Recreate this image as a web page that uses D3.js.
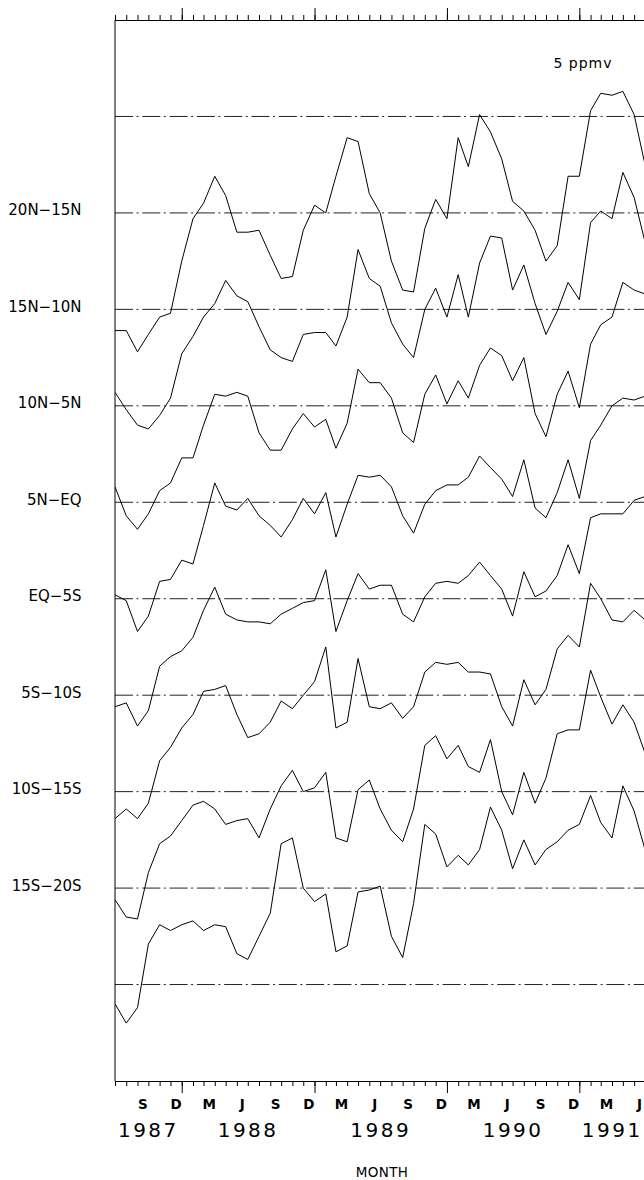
<!DOCTYPE html>
<html lang="en">
<head>
<meta charset="UTF-8">
<title>Stacked band series</title>
<script src="https://cdn.jsdelivr.net/npm/d3@7/dist/d3.min.js"></script>
<style>
  body { margin: 0; background: #fff; }
  text { font-family: "DejaVu Sans", sans-serif; fill: #000; }
</style>
</head>
<body>
<script>
// one value per month from Jul 1987, ppmv relative to the band's own dash-dot line
const bands = ["20N−15N", "15N−10N", "10N−5N", "5N−EQ", "EQ−5S", "5S−10S", "10S−15S", "15S−20S"];

const b20N15N = [-6.1,-6.1,-7.2,-6.3,-5.4,-5.2,-2.5,-0.3,0.5,1.9,0.9,-1.0,-1.0,-0.9,-2.2,-3.4,-3.3,-0.9,0.4,0.0,
  1.9,3.9,3.7,1.0,0.0,-2.5,-4.0,-4.1,-0.8,0.7,-0.3,3.9,2.4,5.1,4.2,2.8,0.6,0.1,-0.9,-2.5,-1.7,1.9,1.9,5.3,6.2,6.1,6.3,5.1,2.5];
const b15N10N = [-4.3,-5.2,-6.0,-6.2,-5.5,-4.6,-2.3,-1.4,-0.4,0.3,1.5,0.7,0.4,-0.9,-2.1,-2.5,-2.7,-1.3,-1.2,-1.2,
  -1.9,-0.4,3.1,1.6,1.2,-0.7,-1.8,-2.5,0.0,1.1,-0.4,1.8,-0.4,2.4,3.8,3.7,1.0,2.3,0.3,-1.3,-0.1,1.4,0.5,4.5,5.1,4.7,7.1,5.8,3.5];
const b10N5N = [-4.2,-5.7,-6.4,-5.6,-4.4,-4.0,-2.7,-2.7,-1.0,0.6,0.5,0.7,0.5,-1.4,-2.3,-2.3,-1.2,-0.4,-1.1,-0.7,
  -2.2,-0.9,1.9,1.2,1.2,0.4,-1.4,-1.9,0.6,1.6,0.1,1.3,0.4,2.1,3.0,2.6,1.3,2.5,-0.4,-1.6,0.6,1.8,-0.1,3.2,4.2,4.6,6.4,6.0,5.8];
const b5NEQ = [-4.8,-5.1,-6.7,-5.9,-4.1,-4.0,-3.0,-3.2,-1.2,1.0,-0.2,-0.4,0.2,-0.7,-1.2,-1.8,-0.9,0.2,-0.6,0.5,
  -1.8,-0.1,1.4,1.3,1.4,0.8,-0.7,-1.6,-0.1,0.6,0.9,0.9,1.3,2.4,1.8,1.2,0.3,2.2,-0.3,-0.8,0.5,2.2,0.2,3.2,4.0,5.0,5.4,5.3,5.5];
const bEQ5S = [-5.6,-5.4,-6.6,-5.8,-3.5,-3.0,-2.7,-2.0,-0.6,0.6,-0.8,-1.1,-1.2,-1.2,-1.3,-0.8,-0.5,-0.2,-0.1,1.5,
  -1.7,-0.1,1.3,0.5,0.7,0.7,-0.8,-1.2,0.1,0.8,0.9,0.8,1.2,1.9,1.2,0.5,-0.9,1.4,0.1,0.4,1.2,2.8,1.3,4.2,4.4,4.4,4.4,5.1,5.3];
const b5S10S = [-6.4,-5.9,-6.4,-5.6,-3.4,-2.7,-1.7,-1.0,0.2,0.3,0.5,-1.0,-2.2,-2.0,-1.4,-0.3,-0.7,0.0,0.7,2.5,
  -1.7,-1.4,1.9,-0.6,-0.7,-0.4,-1.2,-0.6,1.2,1.7,1.6,1.7,1.2,1.2,1.1,-0.6,-1.6,0.8,-0.5,0.3,2.4,3.1,2.5,5.8,5.0,3.9,3.8,4.4,3.9];
const b10S15S = [-5.6,-6.5,-6.6,-4.2,-2.7,-2.3,-1.5,-0.7,-0.5,-0.9,-1.7,-1.5,-1.4,-2.4,-0.9,0.3,1.1,0.0,0.2,1.0,
  -2.4,-2.6,0.1,0.6,-0.9,-2.0,-2.6,-0.9,2.4,2.9,1.7,2.4,1.3,1.0,2.7,0.0,-1.2,1.0,-0.6,0.7,3.0,3.2,3.2,6.3,4.9,3.5,4.5,3.6,2.0];
const b15S20S = [-6.0,-7.0,-6.2,-2.9,-1.9,-2.2,-1.9,-1.7,-2.2,-1.9,-2.0,-3.4,-3.7,-2.5,-1.3,2.3,2.6,0.0,-0.7,-0.3,
  -3.3,-3.0,-0.2,-0.1,0.1,-2.5,-3.6,-0.8,3.3,2.8,1.1,1.7,1.2,2.0,4.2,3.0,1.0,2.5,1.2,2.0,2.4,3.0,3.3,4.8,3.4,2.6,5.3,4.0,2.0];

const series = [b20N15N, b15N10N, b10N5N, b5NEQ, bEQ5S, b5S10S, b10S15S, b15S20S];

// tick labels
const monthLetters = {8: "S", 11: "D", 2: "M", 5: "J"};
const years = [1987, 1988, 1989, 1990, 1991];
const spacing = 5;          // ppmv between two dash-dot lines
const scaleLabel = "5 ppmv";

const width = 644, height = 1180;
const plotL = 115, plotR = 645, plotT = 20, plotB = 1081;
const start = new Date(1987, 6, 1), end = new Date(1991, 6, 1);

const x = d3.scaleTime().domain([start, end]).range([plotL, plotR]);
const y = d3.scaleLinear().domain([2 * spacing, -9 * spacing]).range([plotT, plotB]);

const svg = d3.select("body").append("svg")
  .attr("width", width).attr("height", height)
  .attr("viewBox", [0, 0, width, height]);

svg.append("clipPath").attr("id", "plot")
  .append("rect").attr("x", plotL).attr("y", plotT)
  .attr("width", plotR - plotL).attr("height", plotB - plotT);

// dash-dot reference lines, one above the first band and one below the last
const refs = d3.range(spacing, -9 * spacing, -spacing);
svg.append("g")
  .selectAll("line").data(refs).join("line")
  .attr("x1", plotL).attr("x2", plotR)
  .attr("y1", d => y(d)).attr("y2", d => y(d))
  .attr("stroke", "#222").attr("stroke-width", 1)
  .attr("stroke-dasharray", "18,3.5,2,3.8");

// band labels sit on their zero line
svg.append("g")
  .selectAll("text").data(bands).join("text")
  .attr("x", 81.5).attr("y", (d, i) => y(-spacing * i) + 2.5)
  .attr("text-anchor", "end")
  .attr("font-size", 15)
  .text(d => d);

svg.append("text")
  .attr("x", 583).attr("y", 68)
  .attr("text-anchor", "middle")
  .attr("font-size", 14)
  .attr("letter-spacing", 1)
  .text(scaleLabel);

// traces
const line = d3.line()
  .x((d, i) => x(d3.timeMonth.offset(start, i)));

svg.append("g").attr("clip-path", "url(#plot)")
  .selectAll("path").data(series).join("path")
  .attr("fill", "none").attr("stroke", "#000").attr("stroke-width", 1)
  .attr("d", (vals, k) => line.y(v => y(v - spacing * k))(vals));

// frame: left edge plus month ticks top and bottom
svg.append("line")
  .attr("x1", plotL).attr("x2", plotL).attr("y1", plotT).attr("y2", plotB)
  .attr("stroke", "#000");

function monthAxis(axisFn, ypos) {
  const g = svg.append("g").attr("transform", `translate(0,${ypos})`);
  g.append("g").call(axisFn(x).ticks(d3.timeMonth.every(1)).tickSize(5).tickSizeOuter(0).tickFormat(() => ""));
  g.append("g").call(axisFn(x).ticks(d3.timeYear.every(1)).tickSize(12).tickSizeOuter(0).tickFormat(() => ""));
  g.selectAll(".domain").attr("stroke", "#000");
  g.selectAll("text").remove();
  return g;
}
monthAxis(d3.axisTop, plotT);
monthAxis(d3.axisBottom, plotB);

// month letters at mid-month
const months = d3.timeMonth.range(start, end).filter(d => monthLetters[d.getMonth()]);
svg.append("g")
  .selectAll("text").data(months).join("text")
  .attr("x", d => (x(d) + x(d3.timeMonth.offset(d, 1))) / 2)
  .attr("y", 1108.5)
  .attr("text-anchor", "middle")
  .attr("font-size", 13.5).attr("font-weight", "bold")
  .text(d => monthLetters[d.getMonth()]);

// year labels centred on the visible part of each year
svg.append("g")
  .selectAll("text").data(years).join("text")
  .attr("x", yr => {
    const a = Math.max(x(new Date(yr, 0, 1)), plotL);
    const b = Math.min(x(new Date(yr + 1, 0, 1)), plotR);
    return (a + b) / 2;
  })
  .attr("y", 1137)
  .attr("text-anchor", "middle")
  .attr("font-size", 20).attr("letter-spacing", 2.5)
  .text(d => d);

svg.append("text")
  .attr("x", 382).attr("y", 1177)
  .attr("text-anchor", "middle")
  .attr("font-size", 13.5)
  .attr("letter-spacing", 0.3)
  .text("MONTH");
</script>
</body>
</html>
